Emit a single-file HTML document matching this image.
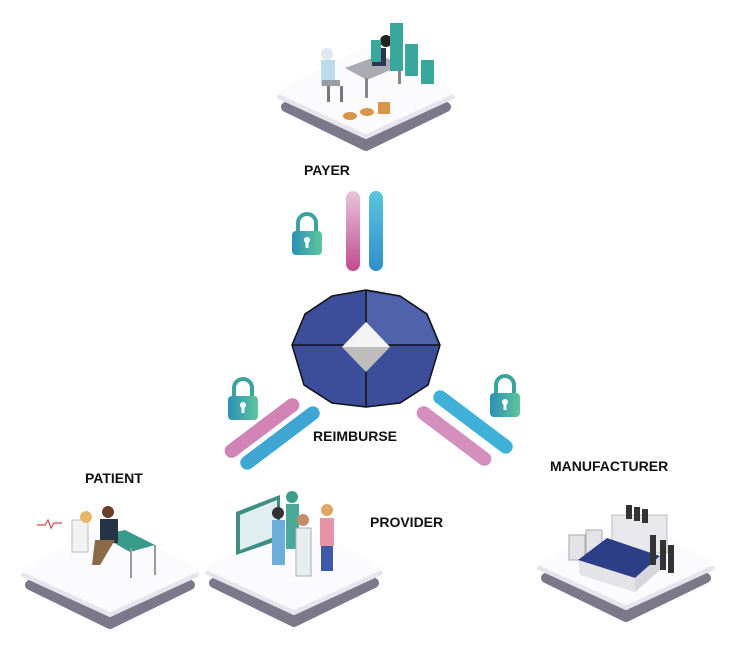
<!DOCTYPE html>
<html><head><meta charset="utf-8"><style>
html,body{margin:0;padding:0;background:#fff;}
svg{display:block}
text{font-family:"Liberation Sans",sans-serif;font-weight:bold;font-size:14px;fill:#111}
</style></head><body>
<svg width="739" height="645" viewBox="0 0 739 645" xmlns="http://www.w3.org/2000/svg">
<defs>
<linearGradient id="pk" x1="0" y1="0" x2="0" y2="1"><stop offset="0" stop-color="#e7c6dc"/><stop offset="1" stop-color="#c04b8e"/></linearGradient>
<linearGradient id="bl" x1="0" y1="0" x2="0" y2="1"><stop offset="0" stop-color="#5cc6e0"/><stop offset="1" stop-color="#2f8fc9"/></linearGradient>
<linearGradient id="lk" x1="0" y1="0" x2="1" y2="0"><stop offset="0" stop-color="#2c8fb5"/><stop offset="1" stop-color="#5cc79a"/></linearGradient>
<g id="plat">
<path d="M-80,15 L0,-26 L80,15 L0,54 Z" fill="#7d7889" stroke="#7d7889" stroke-width="10" stroke-linejoin="round"/>
<path d="M-87,5 L0,-40 L87,5 L0,45 Z" fill="#e4e6ec" stroke="#e4e6ec" stroke-width="4" stroke-linejoin="round"/>
<path d="M-87,0 L0,-44 L87,0 L0,40 Z" fill="#fbfbfd" stroke="#fbfbfd" stroke-width="4" stroke-linejoin="round"/>
</g>
<g id="lock">
<path d="M-9,-4 v-8 a9,9 0 0 1 18,0 v8" fill="none" stroke="#3aa49a" stroke-width="4"/>
<rect x="-15" y="-4" width="30" height="24" rx="4" fill="url(#lk)"/>
<circle cx="0" cy="5" r="3" fill="#fff"/><rect x="-1.5" y="5" width="3" height="8" fill="#fff"/>
</g>
</defs>

<!-- platforms -->
<use href="#plat" x="366" y="92"/>
<use href="#plat" x="110" y="570"/>
<use href="#plat" x="294" y="568"/>
<use href="#plat" x="626" y="563"/>

<!-- payer scene -->
<path d="M345,68 L380,55 L402,65 L367,80 Z" fill="#a9abb0"/>
<rect x="365" y="78" width="3" height="20" fill="#888"/><rect x="398" y="64" width="3" height="20" fill="#888"/>
<rect x="321" y="60" width="14" height="25" fill="#b9dce8"/>
<circle cx="327" cy="54" r="6" fill="#dfe8ee"/>
<rect x="322" y="80" width="18" height="6" fill="#9a9ca3"/>
<rect x="327" y="86" width="3" height="16" fill="#777"/><rect x="340" y="86" width="3" height="16" fill="#777"/>
<rect x="372" y="48" width="14" height="18" fill="#2d3550"/>
<circle cx="386" cy="41" r="6" fill="#222"/>
<rect x="371" y="40" width="10" height="22" fill="#3aa79c"/>
<rect x="390" y="23" width="13" height="48" fill="#3aa79c"/>
<rect x="405" y="44" width="13" height="32" fill="#3aa79c"/>
<rect x="421" y="60" width="13" height="24" fill="#3aa79c"/>
<ellipse cx="350" cy="116" rx="7" ry="4" fill="#d6974a"/>
<ellipse cx="367" cy="112" rx="7" ry="4" fill="#d6974a"/>
<rect x="378" y="102" width="12" height="12" fill="#d6974a"/>

<!-- patient scene -->
<path d="M100,535 L125,530 L155,545 L130,552 Z" fill="#3a9a8a"/>
<rect x="130" y="548" width="2" height="30" fill="#999"/><rect x="154" y="545" width="2" height="30" fill="#999"/>
<rect x="72" y="520" width="16" height="32" fill="#f2f2f2" stroke="#bbb"/>
<circle cx="86" cy="517" r="6" fill="#e7b66a"/>
<rect x="100" y="519" width="18" height="24" fill="#243446"/>
<circle cx="108" cy="512" r="6" fill="#6a3f2a"/>
<path d="M95,540 L115,540 L100,565 L92,565 Z" fill="#8a6b45"/>
<path d="M37,525 l8,0 3,-5 3,8 3,-5 8,0" fill="none" stroke="#d04a4a" stroke-width="1.2"/>

<!-- provider scene -->
<path d="M236,512 L280,495 L280,540 L236,555 Z" fill="#3d8f86"/>
<path d="M240,515 L277,500 L277,536 L240,550 Z" fill="#dfeeee"/>
<rect x="272" y="520" width="13" height="45" fill="#6aaed9"/>
<circle cx="278" cy="513" r="6" fill="#333"/>
<rect x="286" y="504" width="13" height="45" fill="#4aa89a"/>
<circle cx="292" cy="497" r="6" fill="#3c9b8a"/>
<rect x="296" y="528" width="15" height="48" fill="#e8eef0" stroke="#aab"/>
<circle cx="303" cy="520" r="6" fill="#c38c6a"/>
<rect x="320" y="518" width="14" height="28" fill="#e793a6"/>
<rect x="321" y="546" width="12" height="25" fill="#3d5aa8"/>
<circle cx="327" cy="510" r="6" fill="#e0a764"/>

<!-- manufacturer scene -->
<rect x="612" y="515" width="55" height="38" fill="#e8e8ec" stroke="#bbb"/>
<rect x="569" y="535" width="16" height="25" fill="#e4e4e8" stroke="#aaa"/>
<rect x="586" y="530" width="16" height="25" fill="#e4e4e8" stroke="#aaa"/>
<path d="M578,560 L607,538 L660,556 L635,578 Z" fill="#2c3f86"/>
<path d="M578,560 L635,578 L635,592 L580,575 Z" fill="#e3e3e8"/>
<path d="M635,578 L660,556 L660,570 L635,592 Z" fill="#d5d5dc"/>
<rect x="626" y="505" width="6" height="14" fill="#333"/><rect x="634" y="507" width="6" height="14" fill="#333"/><rect x="642" y="509" width="6" height="14" fill="#333"/>
<rect x="650" y="535" width="6" height="30" fill="#333"/><rect x="660" y="540" width="6" height="30" fill="#333"/><rect x="668" y="545" width="6" height="28" fill="#333"/>

<!-- bars -->
<rect x="346" y="191" width="14" height="80" rx="7" fill="url(#pk)"/>
<rect x="369" y="191" width="14" height="80" rx="7" fill="url(#bl)"/>
<use href="#lock" x="307" y="235"/>

<g transform="translate(262,428) rotate(-37)"><rect x="-45" y="-7" width="90" height="14" rx="7" fill="#c96ea8" opacity="0.85"/></g>
<g transform="translate(280,438) rotate(-37)"><rect x="-48" y="-7" width="96" height="14" rx="7" fill="#3fa6d4"/></g>
<use href="#lock" x="243" y="400"/>

<g transform="translate(473,422) rotate(37)"><rect x="-48" y="-7" width="96" height="14" rx="7" fill="#3fb0d8"/></g>
<g transform="translate(454,436) rotate(37)"><rect x="-45" y="-7" width="90" height="14" rx="7" fill="#cc7bb0" opacity="0.85"/></g>
<use href="#lock" x="505" y="397"/>

<!-- gem -->
<polygon points="366,290 400,296 427,314 440,345 428,385 400,403 366,407 332,403 304,385 292,345 305,314 332,296" fill="#3c4e9a" stroke="#111" stroke-width="1.5"/>
<polygon points="366,292 400,297 426,315 438,345 366,345" fill="#4f62ab"/>
<line x1="292" y1="345" x2="440" y2="345" stroke="#111" stroke-width="1.5"/>
<line x1="366" y1="290" x2="366" y2="407" stroke="#111" stroke-width="1.5"/>
<polygon points="366,322 390,347 366,372 342,347" fill="#bdbdbd"/>
<polygon points="366,322 390,347 342,347" fill="#f4f4f4"/>

<!-- labels -->
<text x="304" y="175">PAYER</text>
<text x="313" y="441">REIMBURSE</text>
<text x="85" y="483">PATIENT</text>
<text x="370" y="527">PROVIDER</text>
<text x="550" y="471">MANUFACTURER</text>
</svg>
</body></html>
